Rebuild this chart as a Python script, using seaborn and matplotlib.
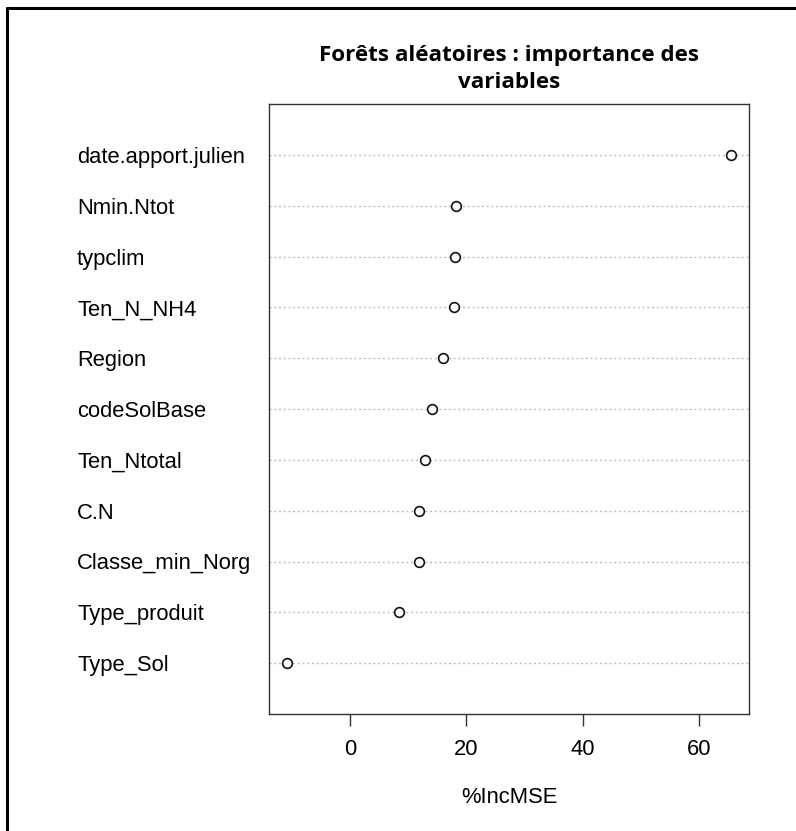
import matplotlib
matplotlib.use("Agg")
import matplotlib.pyplot as plt
import seaborn as sns
import pandas as pd
from matplotlib.lines import Line2D

# Variable importance from the random forest (%IncMSE), most important first
variables = [
    "date.apport.julien", "Nmin.Ntot", "typclim", "Ten_N_NH4", "Region",
    "codeSolBase", "Ten_Ntotal", "C.N", "Classe_min_Norg", "Type_produit",
    "Type_Sol",
]
inc_mse = [65.5, 18.2, 18.0, 17.9, 16.0, 14.1, 12.9, 11.8, 11.8, 8.4, -10.8]
x_ticks = [0, 20, 40, 60]

df = pd.DataFrame({"variable": variables, "IncMSE": inc_mse})

sns.set_theme(style="white")
plt.rcParams["font.family"] = ["Liberation Sans", "DejaVu Sans"]
plt.rcParams["text.color"] = "black"

W, H = 796, 831
fig = plt.figure(figsize=(W / 100, H / 100), dpi=100)
ax = fig.add_axes([269.3 / W, 1 - 714 / H, (748.7 - 269.3) / W, (714 - 104) / H])

# dotted guide line for every variable
for i in range(len(variables)):
    ax.axhline(i, color="#BBBBBB", linestyle=(0, (1.4, 2.0)), linewidth=1.0, zorder=1)

sns.stripplot(data=df, x="IncMSE", y="variable", order=variables, orient="h",
              jitter=False, size=7.0, color="white", edgecolor="#111111",
              linewidth=1.2, ax=ax, zorder=3)

span = max(inc_mse) - min(inc_mse)
ax.set_xlim(min(inc_mse) - 0.04 * span, max(inc_mse) + 0.04 * span)
ax.set_ylim(len(variables), -1)

FS = 15.8
ax.set_xticks(x_ticks)
ax.set_xticklabels([str(t) for t in x_ticks])
ax.tick_params(axis="x", direction="out", length=8.6, width=1.0, color="#333333",
               pad=9.5, labelsize=FS, labelcolor="black", bottom=True)
ax.tick_params(axis="y", length=0, pad=(269.3 - 77) * 0.72, labelsize=FS,
               labelcolor="black")
for lab in ax.get_yticklabels():
    lab.set_horizontalalignment("left")

ax.set_xlabel("%IncMSE", fontsize=FS, labelpad=19, color="black")
ax.set_ylabel("")

for sp in ax.spines.values():
    sp.set_color("#333333")
    sp.set_linewidth(1.0)
    sp.set_visible(True)

fig.text(509 / W, 1 - 69 / H, "Forêts aléatoires : importance des\nvariables",
         ha="center", va="center", fontsize=16.1, fontweight="bold", color="black",
         family=["Open Sans", "DejaVu Sans"], linespacing=1.4)

# frame around the figure (top and left edges)
fig.add_artist(Line2D([7 / W, 7 / W], [0, 1 - 8 / H], color="black", linewidth=2.2,
                      transform=fig.transFigure))
fig.add_artist(Line2D([7 / W, 1], [1 - 8 / H, 1 - 8 / H], color="black", linewidth=2.2,
                      transform=fig.transFigure))

fig.savefig("out.png", dpi=100, facecolor="white")
